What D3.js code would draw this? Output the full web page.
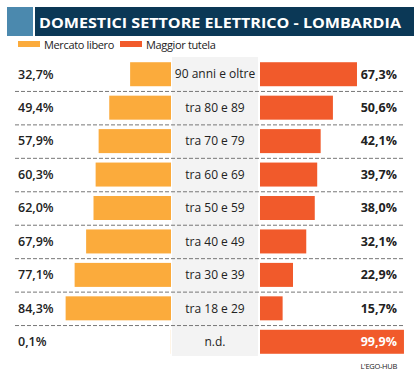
<!DOCTYPE html>
<html>
<head>
<meta charset="utf-8">
<script src="https://cdn.jsdelivr.net/npm/d3@7"></script>
<style>
  body { margin: 0; background: #fff; }
  svg { display: block; font-family: "Open Sans", sans-serif; }
</style>
</head>
<body>
<svg id="chart" width="419" height="377"></svg>
<script>
// data
var fasce = ["90 anni e oltre", "tra 80 e 89", "tra 70 e 79", "tra 60 e 69", "tra 50 e 59",
             "tra 40 e 49", "tra 30 e 39", "tra 18 e 29", "n.d."];
var mercatoLibero = [32.7, 49.4, 57.9, 60.3, 62.0, 67.9, 77.1, 84.3, 0.1];
var maggiorTutela = [67.3, 50.6, 42.1, 39.7, 38.0, 32.1, 22.9, 15.7, 99.9];
var serie = ["Mercato libero", "Maggior tutela"];

var ORANGE = "#fbab3c", RED = "#f15a2b";

var svg = d3.select("#chart");
var fmt = function(v) { return d3.format(".1f")(v).replace(".", ",") + "%"; };

// header
svg.append("rect").attr("x", 7).attr("y", 7).attr("width", 26).attr("height", 29).attr("fill", "#4b89ae");
svg.append("rect").attr("x", 35).attr("y", 7).attr("width", 379).attr("height", 29).attr("fill", "#0b3856");
svg.append("text").attr("x", 39).attr("y", 27.5)
  .attr("fill", "#fff").attr("font-weight", 700).attr("font-size", 15)
  .attr("textLength", 362).attr("lengthAdjust", "spacingAndGlyphs")
  .text("DOMESTICI SETTORE ELETTRICO - LOMBARDIA");

// legend
var leg = svg.selectAll(".leg").data(serie).enter().append("g")
  .attr("transform", function(d, i) { return "translate(" + (18 + i * 102) + ",41)"; });
leg.append("rect").attr("width", 22).attr("height", 6)
  .attr("fill", function(d, i) { return i ? RED : ORANGE; });
leg.append("text").attr("x", 26).attr("y", 7.5).attr("font-size", 11).attr("letter-spacing", -0.35)
  .attr("fill", "#222").text(function(d) { return d; });

// scales
var y = d3.scaleBand().domain(fasce).range([57.5, 358.5]);
var xL = d3.scaleLinear().domain([0, 100]).range([171, 46]);
var xR = d3.scaleLinear().domain([0, 100]).range([260, 404.1]);
var barH = 24;

// center column
svg.append("rect").attr("x", 172).attr("y", 57).attr("width", 86).attr("height", 299).attr("fill", "#f3f3f3");

// dashed separators
svg.selectAll(".sep").data(fasce.slice(1)).enter().append("line")
  .attr("x1", 15).attr("x2", 405)
  .attr("y1", function(d) { return y(d) + 0.5; }).attr("y2", function(d) { return y(d) + 0.5; })
  .attr("stroke", "#777").attr("stroke-width", 1).attr("stroke-dasharray", "4,2");

var rows = svg.selectAll(".row").data(fasce).enter().append("g")
  .attr("transform", function(d) { return "translate(0," + (y(d) + y.bandwidth() / 2) + ")"; });

rows.append("rect")
  .attr("x", function(d, i) { return xL(mercatoLibero[i]); })
  .attr("y", -barH / 2).attr("height", barH)
  .attr("width", function(d, i) { return xL(0) - xL(mercatoLibero[i]); })
  .attr("fill", ORANGE);

rows.append("rect")
  .attr("x", xR(0)).attr("y", -barH / 2).attr("height", barH)
  .attr("width", function(d, i) { return xR(maggiorTutela[i]) - xR(0); })
  .attr("fill", RED);

rows.append("text").attr("x", 18).attr("dy", "0.35em")
  .attr("font-size", 12.5).attr("font-weight", 600).attr("fill", "#222")
  .text(function(d, i) { return fmt(mercatoLibero[i]); });

rows.append("text").attr("x", 215).attr("dy", "0.35em").attr("text-anchor", "middle")
  .attr("font-size", 12).attr("fill", "#222")
  .text(function(d) { return d; });

rows.append("text").attr("x", 397).attr("dy", "0.35em").attr("text-anchor", "end")
  .attr("font-size", 12.5).attr("font-weight", 700)
  .attr("fill", function(d, i) { return i === fasce.length - 1 ? "#fff" : "#222"; })
  .text(function(d, i) { return fmt(maggiorTutela[i]); });

// source
svg.append("text").attr("x", 397).attr("y", 369).attr("text-anchor", "end")
  .attr("font-size", 7.5).attr("fill", "#222").attr("letter-spacing", -0.3).text("L'EGO-HUB");
</script>
</body>
</html>
